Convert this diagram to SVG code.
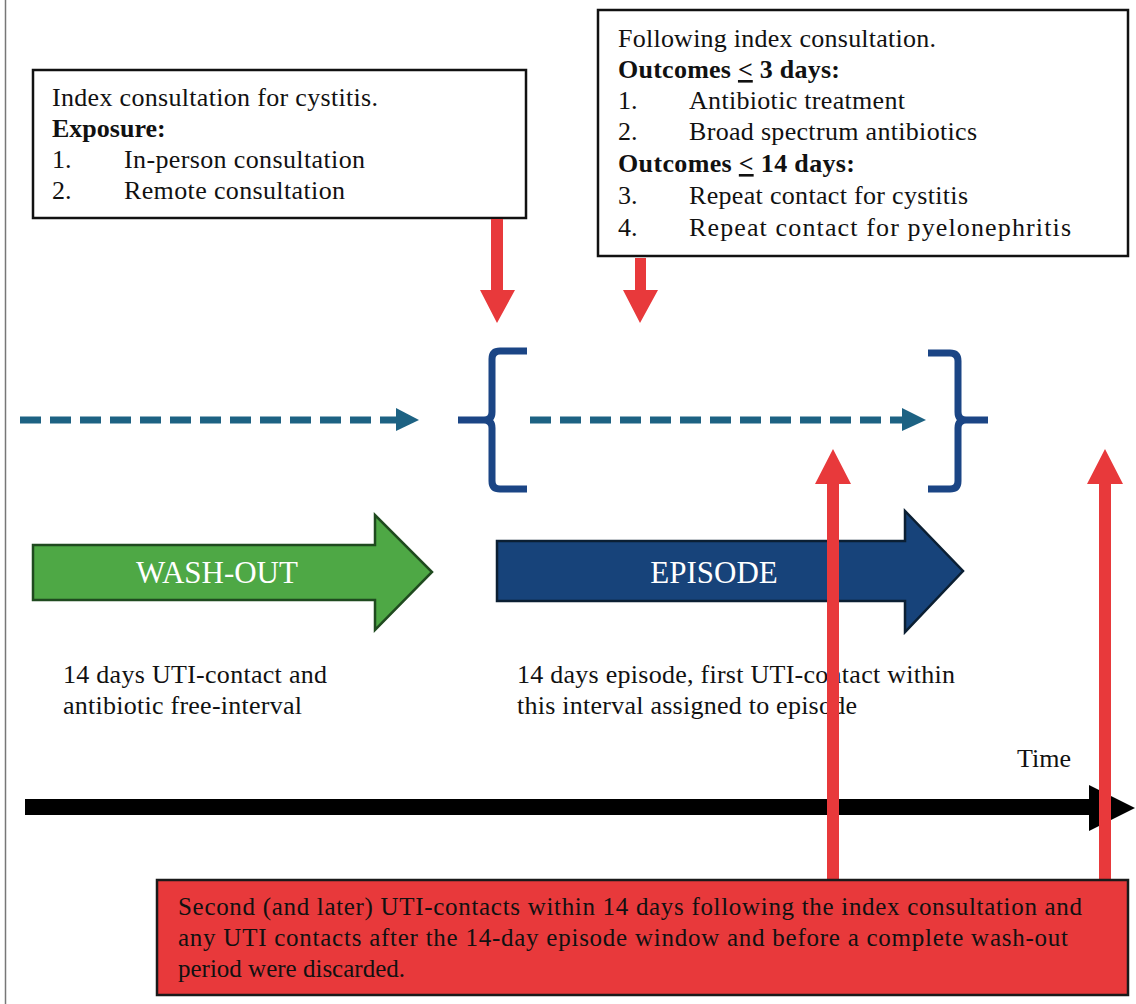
<svg xmlns="http://www.w3.org/2000/svg" width="1136" height="1004" viewBox="0 0 1136 1004">
<defs>
<style>
text{font-family:"Liberation Serif","Times New Roman",serif;fill:#111;}
.t{font-size:26px;}
.b{font-weight:bold;}
.box{fill:#fff;stroke:#111;stroke-width:2.5;}
.red{fill:#e8393b;}
.dash{stroke:#1d6283;stroke-width:7;stroke-dasharray:21 9;fill:none;}
.dhead{fill:#1d6283;}
.brace{fill:none;stroke:#1b4585;stroke-width:7;stroke-linejoin:round;}
.lbl{font-size:31px;fill:#fff;text-anchor:middle;}
.note{font-size:26px;}
.bottom{font-size:25px;}
</style>
</defs>
<rect width="1136" height="1004" fill="#fff"/>
<line x1="5.5" y1="0" x2="5.5" y2="1004" stroke="#777" stroke-width="1.5"/>

<g id="exposure-box">
<rect class="box" x="33" y="70" width="493" height="148"/>
<text class="t" x="52" y="106" textLength="326" lengthAdjust="spacing">Index consultation for cystitis.</text>
<text class="t b" x="52" y="137">Exposure:</text>
<text class="t" x="52" y="168">1.</text>
<text class="t" x="124" y="168" textLength="241" lengthAdjust="spacing">In-person consultation</text>
<text class="t" x="52" y="199">2.</text>
<text class="t" x="124" y="199" textLength="221" lengthAdjust="spacing">Remote consultation</text>
</g>

<g id="outcome-box">
<rect class="box" x="598" y="10" width="530" height="246"/>
<text class="t" x="618" y="47" textLength="318" lengthAdjust="spacing">Following index consultation.</text>
<text class="t b" x="618" y="78" textLength="222" lengthAdjust="spacing">Outcomes <tspan text-decoration="underline">&lt;</tspan> 3 days:</text>
<text class="t" x="618" y="109">1.</text>
<text class="t" x="689" y="109" textLength="216" lengthAdjust="spacing">Antibiotic treatment</text>
<text class="t" x="618" y="140">2.</text>
<text class="t" x="689" y="140" textLength="288" lengthAdjust="spacing">Broad spectrum antibiotics</text>
<text class="t b" x="618" y="172" textLength="237" lengthAdjust="spacing">Outcomes <tspan text-decoration="underline">&lt;</tspan> 14 days:</text>
<text class="t" x="618" y="204">3.</text>
<text class="t" x="689" y="204" textLength="279" lengthAdjust="spacing">Repeat contact for cystitis</text>
<text class="t" x="618" y="236">4.</text>
<text class="t" x="689" y="236" textLength="382" lengthAdjust="spacing">Repeat contact for pyelonephritis</text>
</g>

<g id="washout-arrow">
<polygon points="33,545 375,545 375,515 432,572 375,630 375,600 33,600" fill="#4ea845" stroke="#1f4a1f" stroke-width="2.5"/>
<text class="lbl" x="217" y="583">WASH-OUT</text>
</g>

<g id="episode-arrow">
<polygon points="497,541 905,541 905,511 963,571 905,632 905,601 497,601" fill="#17437a" stroke="#0b1f33" stroke-width="2.5"/>
<text class="lbl" x="714" y="583">EPISODE</text>
</g>

<g id="washout-note">
<text class="note" x="63" y="683" textLength="264" lengthAdjust="spacing">14 days UTI-contact and</text>
<text class="note" x="63" y="714" textLength="239" lengthAdjust="spacing">antibiotic free-interval</text>
</g>

<g id="episode-note">
<text class="note" x="517" y="683" textLength="438" lengthAdjust="spacing">14 days episode, first UTI-contact within</text>
<text class="note" x="517" y="714" textLength="340" lengthAdjust="spacing">this interval assigned to episode</text>
</g>

<g id="time-axis">
<rect x="25" y="799" width="1066" height="16" fill="#000"/>
<polygon points="1089,785 1135,808 1089,831" fill="#000"/>
<text class="note" x="1017" y="767">Time</text>
</g>

<g id="braces">
<path class="brace" d="M527,351 L500,351 Q492,351 492,359 L492,412 Q492,420 484,420 L458,420 M484,420 Q492,420 492,428 L492,481 Q492,489 500,489 L527,489"/>
<path class="brace" d="M928,353 L950,353 Q958,353 958,361 L958,412 Q958,420 966,420 L988,420 M966,420 Q958,420 958,428 L958,481 Q958,489 950,489 L928,489"/>
</g>

<g id="connectors">
<line class="dash" x1="20" y1="420" x2="396" y2="420"/>
<polygon class="dhead" points="396,408 419,420 396,431"/>
<line class="dash" x1="530" y1="420" x2="903" y2="420"/>
<polygon class="dhead" points="902,408 926,420 902,431"/>
<polygon class="red" points="491,219 503,219 503,290 515,290 497,323 480,290 491,290"/>
<polygon class="red" points="635,258 646,258 646,290 658,290 640,323 623,290 635,290"/>
<polygon class="red" points="827,880 839,880 839,484 851,484 833,449 815,484 827,484"/>
<polygon class="red" points="1099,880 1111,880 1111,484 1123,484 1105,449 1087,484 1099,484"/>
</g>

<g id="discard-box">
<rect x="157" y="880" width="971" height="115" fill="#e8393b" stroke="#1a1a1a" stroke-width="2.5"/>
<text class="bottom" x="178" y="915" textLength="904" lengthAdjust="spacing">Second (and later) UTI-contacts within 14 days following the index consultation and</text>
<text class="bottom" x="178" y="946" textLength="890" lengthAdjust="spacing">any UTI contacts after the 14-day episode window and before a complete wash-out</text>
<text class="bottom" x="178" y="977">period were discarded.</text>
</g>
</svg>
